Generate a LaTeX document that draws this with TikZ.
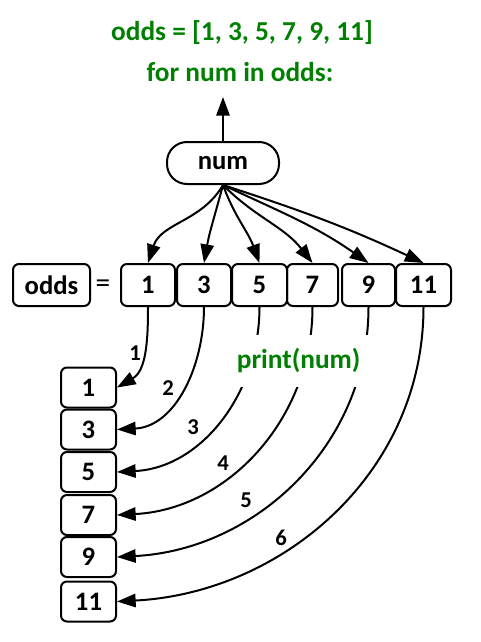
\documentclass[tikz,border=0pt]{standalone}
\usepackage{fontspec}
\setmainfont{Carlito}
\usetikzlibrary{arrows.meta}
\definecolor{codegreen}{RGB}{0,128,0}
\tikzset{
  box/.style={draw, line width=1.5pt, rounded corners=4.5pt, inner sep=0pt, font=\fontsize{20}{23}\selectfont\bfseries},
  link/.style={line width=1.5pt, -{Triangle[length=14pt,width=10pt]}},
  code/.style={text=codegreen, font=\fontsize{20.5}{24}\selectfont\bfseries},
  count/.style={font=\fontsize{17}{20}\selectfont\bfseries},
}
\begin{document}
\begin{tikzpicture}[x=0.75pt,y=0.75pt]
\useasboundingbox (0,0) rectangle (480,-642);

\node[code] (line1) at (242,-33) {odds = [1, 3, 5, 7, 9, 11]};
\node[code] (line2) at (240,-72) {for num in odds:};

\node[box, rounded corners=15pt, minimum width=84pt, minimum height=31.5pt] (num) at (223,-163) {num};
\coordinate (up) at (223,-97);
\draw[link] (num.north) -- (up);

\node[box, minimum width=57.75pt, minimum height=31.5pt] (odds) at (51.5,-285) {odds};
\node[font=\fontsize{22}{24}\selectfont] (eq) at (103,-286) {=};

\foreach \x/\w/\v in {148/54/1, 204/54/3, 259.5/55/5, 312.5/51/7, 368.5/53/9, 423.5/55/11}
	\node[box, minimum width=\w*0.75pt, minimum height=31.5pt] (t\v) at (\x,-285) {\v};

\foreach \y/\v in {387.5/1, 429.5/3, 472/5, 515/7, 557/9, 601.5/11}
	\node[box, minimum width=41.25pt, minimum height=30pt] (p\v) at (88.5,-\y) {\v};

\foreach \v/\o/\i in {1/240/72, 3/255/80, 5/290/110, 7/315/128, 9/335/145, 11/342/155}
	\draw[link] (num.south) to[out=\o,in=\i] (t\v.north);

\draw[link] (t1.south) to[out=-90,in=30] (p1.east);
\foreach \v/\i in {3/3, 5/3, 7/3, 9/3, 11/3}
	\draw[link] (t\v.south) to[out=-90,in=\i] (p\v.east);

\node[code, fill=white, text width=97pt, align=left, inner xsep=1pt, inner ysep=0pt, minimum height=39pt] (print) at (301.5,-361) {print(num)};

\foreach \x/\y/\z in {135/353/1, 168/388/2, 193/427/3, 223/463/4, 246/500/5, 281/538/6}
	\node[count] (n\z) at (\x,-\y) {\z};
\end{tikzpicture}
\end{document}
